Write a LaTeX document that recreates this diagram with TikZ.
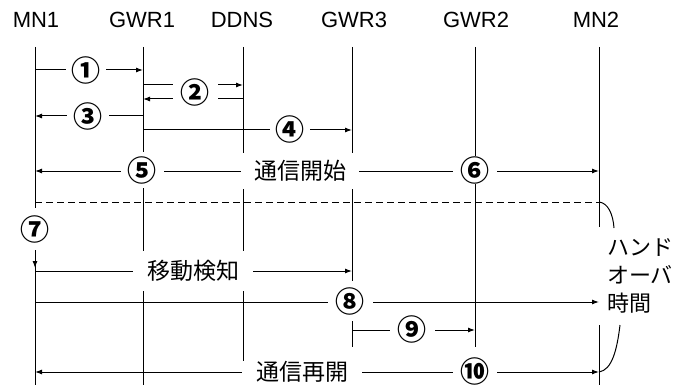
\documentclass[tikz,border=0pt]{standalone}
\usepackage{fontspec}
\setmainfont{Liberation Sans}
\newfontfamily\jp{Noto Sans CJK JP}
\usetikzlibrary{arrows.meta}
\begin{document}
\begin{tikzpicture}[x=1pt,y=-1pt,
  hdr/.style={font=\fontsize{22}{22}\selectfont, inner sep=0pt},
  life/.style={line width=0.9pt},
  msg/.style={line width=1pt,-{Latex[length=7pt,width=5pt]}},
  dmsg/.style={line width=1pt,{Latex[length=7pt,width=5pt]}-{Latex[length=7pt,width=5pt]}},
  sep/.style={line width=1pt, dash pattern=on 7pt off 4pt},
  tag/.style={fill=white, inner sep=0pt, font=\jp\bfseries\fontsize{29}{29}\selectfont},
  jtag/.style={fill=white, inner sep=0pt, font=\jp\fontsize{23}{23}\selectfont},
  brace/.style={line width=1pt}
]
\useasboundingbox (0,0) rectangle (696,385);
% headers
\node[hdr] (mn1) at (36,20) {MN1};
\node[hdr] (gwr1) at (142,20) {GWR1};
\node[hdr] (ddns) at (242,20) {DDNS};
\node[hdr] (gwr3) at (354,20) {GWR3};
\node[hdr] (gwr2) at (476,20) {GWR2};
\node[hdr] (mn2) at (596,20) {MN2};
% lifeline ends
\coordinate (l1t) at (35,47);  \coordinate (l1b) at (35,385);
\coordinate (l2t) at (143,47); \coordinate (l2b) at (143,385);
\coordinate (l3t) at (243,47); \coordinate (l3b) at (243,363);
\coordinate (l4t) at (352,47); \coordinate (l4b) at (352,347);
\coordinate (l5t) at (475,47); \coordinate (l5b) at (475,347);
\coordinate (l6t) at (599,47); \coordinate (l6m) at (599,227);
\coordinate (l6n) at (599,325); \coordinate (l6b) at (599,385);
\draw[life] (l1t) -- (l1b);
\draw[life] (l2t) -- (l2b);
\draw[life] (l3t) -- (l3b);
\draw[life] (l4t) -- (l4b);
\draw[life] (l5t) -- (l5b);
\draw[life] (l6t) -- (l6m);
\draw[life] (l6n) -- (l6b);
% message end points
\coordinate (a1) at (35,70);   \coordinate (b1) at (143,70);
\coordinate (a2) at (143,85);  \coordinate (b2) at (243,85);
\coordinate (a2r) at (243,99); \coordinate (b2r) at (143,99);
\coordinate (a3) at (143,116); \coordinate (b3) at (35,116);
\coordinate (a4) at (143,130); \coordinate (b4) at (352,130);
\coordinate (a5) at (35,171);  \coordinate (b5) at (599,171);
\coordinate (ad) at (35,202);  \coordinate (bd) at (599,202);
\coordinate (a7) at (35,202);  \coordinate (b7) at (35,268);
\coordinate (am) at (35,271);  \coordinate (bm) at (352,271);
\coordinate (a8) at (35,302);  \coordinate (b8) at (599,302);
\coordinate (a9) at (352,330); \coordinate (b9) at (475,330);
\coordinate (ar) at (35,372);  \coordinate (br) at (599,372);
% messages
\draw[msg] (a1) -- (b1);
\draw[msg] (a2) -- (b2);
\draw[msg] (a2r) -- (b2r);
\draw[msg] (a3) -- (b3);
\draw[msg] (a4) -- (b4);
\draw[dmsg] (a5) -- (b5);
\draw[sep] (ad) -- (bd);
\draw[msg] (a7) -- (b7);
\draw[msg] (am) -- (bm);
\draw[msg] (a8) -- (b8);
\draw[msg] (a9) -- (b9);
\draw[dmsg] (ar) -- (br);
% labels
\node[tag, minimum width=40pt, minimum height=20pt] (t1) at (86,70) {①};
\node[tag, minimum width=45pt, minimum height=22pt] (t2) at (195,92) {②};
\node[tag, minimum width=42pt, minimum height=20pt] (t3) at (88,116) {③};
\node[tag, minimum width=40pt, minimum height=20pt] (t4) at (290,129) {④};
\node[tag, minimum width=43pt, minimum height=36pt] (t5) at (142,170) {⑤};
\node[jtag, minimum width=118pt, minimum height=36pt] (ts) at (300,171) {通信開始};
\node[tag, minimum width=44pt, minimum height=28pt] (t6) at (475,170) {⑥};
\node[tag, minimum width=26pt, minimum height=42pt] (t7) at (35,229) {⑦};
\node[jtag, minimum width=120pt, minimum height=40pt] (tm) at (193,271) {移動検知};
\node[tag, minimum width=45pt, minimum height=40pt] (t8) at (350,301) {⑧};
\node[tag, minimum width=45pt, minimum height=20pt] (t9) at (412,329) {⑨};
\node[jtag, minimum width=120pt, minimum height=20pt] (tr) at (302,372) {通信再開};
\node[tag, minimum width=44pt, minimum height=20pt] (t10) at (475,371) {⑩};
% handover
\node[anchor=west, align=left, inner sep=0pt, font=\jp\fontsize{22}{28}\selectfont] (ho) at (607,276) {ハンド\\オーバ\\時間};
\coordinate (c1) at (614,228);
\coordinate (c2) at (620,325);
\draw[brace] (bd) .. controls (608,203) and (613,214) .. (c1);
\draw[brace] (c2) .. controls (617,350) and (612,370) .. (br);
\end{tikzpicture}
\end{document}
